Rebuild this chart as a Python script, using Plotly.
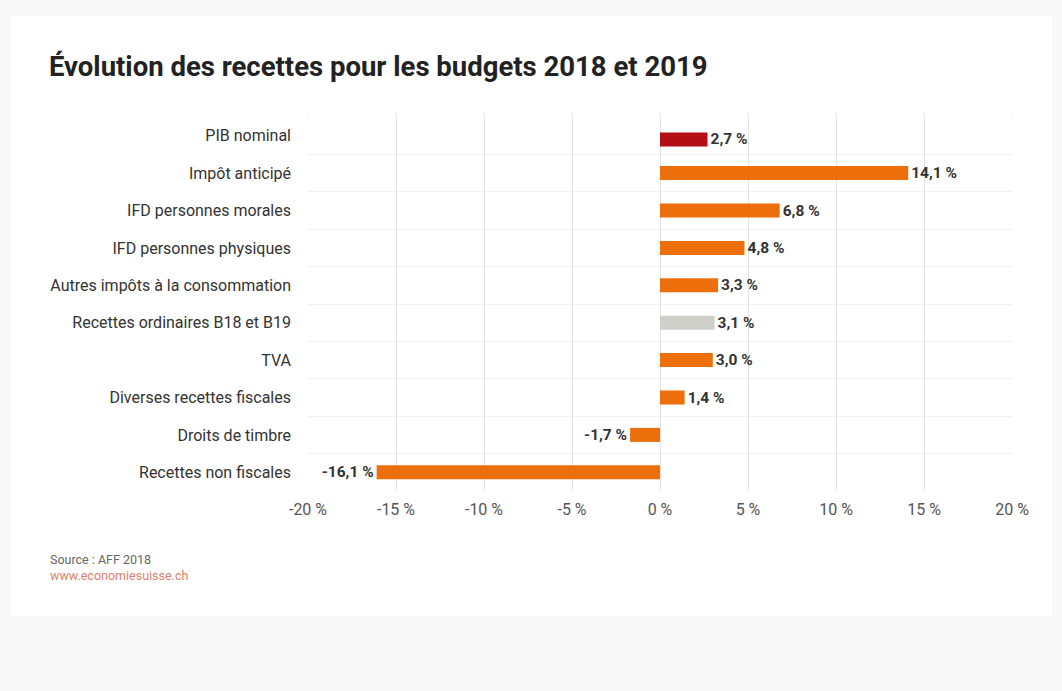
import plotly.graph_objects as go

categories = ["PIB nominal", "Impôt anticipé", "IFD personnes morales", "IFD personnes physiques",
              "Autres impôts à la consommation", "Recettes ordinaires B18 et B19", "TVA",
              "Diverses recettes fiscales", "Droits de timbre", "Recettes non fiscales"]
values = [2.7, 14.1, 6.8, 4.8, 3.3, 3.1, 3.0, 1.4, -1.7, -16.1]
bar_colors = ["#b30f14", "#ec6f0b", "#ec6f0b", "#ec6f0b", "#ec6f0b", "#cfcfc9",
              "#ec6f0b", "#ec6f0b", "#ec6f0b", "#ec6f0b"]
tick_values = [-20, -15, -10, -5, 0, 5, 10, 15, 20]

W, H = 1062, 691
L, R, T, B = 308, 50, 117, 200
PW, PH = W - L - R, H - T - B

def px_x(x):
    return (x - L) / PW

def px_y(y):
    return 1 - (y - T) / PH

def fmt(v):
    return f"{v:.1f}".replace(".", ",") + " %"

labels = [fmt(v) for v in values]
tick_text = [f"{t} %" for t in tick_values]

bar_w = 0.375
offsets = [-bar_w / 2] * len(categories)
offsets[0] = -bar_w / 2 + 0.1  # first bar sits slightly lower in its band

fig = go.Figure()
fig.add_trace(go.Bar(
    y=categories, x=values, orientation="h",
    marker=dict(color=bar_colors, line=dict(width=0)),
    width=bar_w, offset=offsets,
    text=labels, textposition="outside", cliponaxis=False, constraintext="none",
    textfont=dict(family="Roboto", size=15.5, color="#333333", weight="bold"),
    hoverinfo="skip",
))

# vertical grid lines extend a few pixels above the plot area
grid_ext = [dict(type="line", xref="x", yref="paper", x0=t, x1=t, y0=1, y1=px_y(113),
                 line=dict(color="#e2e2e2", width=1), layer="below") for t in tick_values]

fig.update_layout(
    width=W, height=H,
    margin=dict(l=L, r=R, t=T, b=B),
    paper_bgcolor="#f8f8f8",
    plot_bgcolor="#ffffff",
    showlegend=False,
    font=dict(family="Roboto", color="#333333"),
    xaxis=dict(range=[-20, 20], tickvals=tick_values, ticktext=tick_text,
               showgrid=True, gridcolor="#e2e2e2", gridwidth=1, zeroline=False,
               showline=False, ticks="", tickfont=dict(size=16, color="#555555"),
               ticklabelstandoff=7, fixedrange=True),
    yaxis=dict(autorange="reversed", tickson="boundaries", showgrid=True,
               gridcolor="#efefef", gridwidth=1, showline=False, ticks="",
               tickfont=dict(size=16, color="#333333"), ticklabelstandoff=16,
               fixedrange=True),
    shapes=[dict(type="rect", xref="paper", yref="paper", layer="below",
                 x0=px_x(11), x1=px_x(1052), y0=px_y(16), y1=px_y(616),
                 fillcolor="#ffffff", line=dict(width=0))] + grid_ext,
    annotations=[
        dict(text="<b>Évolution des recettes pour les budgets 2018 et 2019</b>",
             xref="paper", yref="paper", x=px_x(47), y=px_y(66),
             xanchor="left", yanchor="middle", showarrow=False,
             font=dict(size=27.5, color="#222222", family="Roboto")),
        dict(text="Source : AFF 2018", xref="paper", yref="paper",
             x=px_x(48), y=px_y(559), xanchor="left", yanchor="middle",
             showarrow=False, font=dict(size=12.5, color="#666666")),
        dict(text="www.economiesuisse.ch", xref="paper", yref="paper",
             x=px_x(48), y=px_y(575), xanchor="left", yanchor="middle",
             showarrow=False, font=dict(size=12.5, color="#e0806c")),
    ],
)

fig.write_html("out.html", config={"displayModeBar": False},
               post_script="document.body.style.margin='0';document.body.style.background='#f8f8f8';")
